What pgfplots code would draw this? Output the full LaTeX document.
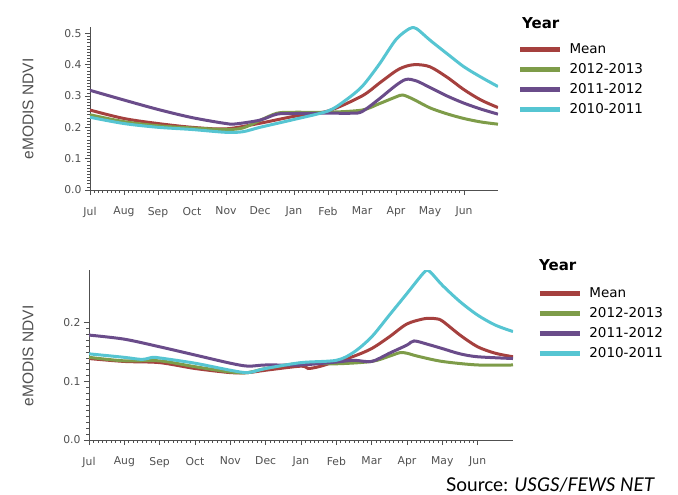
\documentclass[border=0pt]{standalone}
\usepackage{fontspec}
\usepackage{pgfplots}
\pgfplotsset{compat=1.18}
\setmainfont{DejaVu Sans}
\newfontfamily\labelfont{Liberation Sans}
\newfontfamily\srcfont{Lato}
\definecolor{cmean}{HTML}{A5403E}
\definecolor{c1213}{HTML}{7E9C49}
\definecolor{c1112}{HTML}{6A4C8A}
\definecolor{c1011}{HTML}{56C5D2}
\definecolor{axgray}{HTML}{505050}

\pgfplotsset{
  ndvi/.style={
    scale only axis,
    axis lines*=left,
    axis line style={-, color=axgray, line width=0.8pt},
    tick align=outside,
    xmin=0, xmax=12, ymin=0,
    xtick={0,1,...,11},
    xticklabels={Jul,Aug,Sep,Oct,Nov,Dec,Jan,Feb,Mar,Apr,May,Jun},
    minor x tick num=7,
    minor y tick num=9,
    major tick length=5pt,
    minor tick length=2.5pt,
    every tick/.style={axgray, line width=0.6pt},
    ticklabel style={font=\fontsize{10.8}{12}\selectfont, text=axgray},
    xticklabel style={yshift=-8.5pt},
    /pgf/number format/assume math mode=true,
    /pgf/number format/fixed,
    /pgf/number format/fixed zerofill,
    /pgf/number format/precision=1,
    ylabel={eMODIS NDVI},
    ylabel style={font=\labelfont\fontsize{15.5}{17}\selectfont, text=axgray, anchor=center},
    every axis plot/.append style={line width=3pt, smooth, tension=0.5},
    legend image code/.code={\draw[#1, line width=5pt] (0pt,0pt) -- (40pt,0pt);},
    legend cell align=left,
    legend style={draw=none, fill=none, anchor=north west,
      font=\fontsize{13.5}{15}\selectfont, row sep=6.5pt,
      nodes={inner xsep=7pt, inner ysep=1pt}},
  }
}

\pgfplotstableread{
x y
0 0.255
1 0.228
2 0.212
3 0.200
4 0.195
5 0.213
6 0.235
7 0.252
8 0.300
8.5 0.340
9 0.380
9.3 0.395
9.6 0.400
10 0.393
10.5 0.360
11 0.320
11.5 0.287
12 0.263
}\topmean
\pgfplotstableread{
x y
0 0.240
1 0.218
2 0.205
3 0.198
4 0.193
4.5 0.198
5 0.222
5.5 0.245
6 0.248
7 0.248
8 0.255
8.5 0.275
9 0.297
9.2 0.303
9.5 0.290
10 0.262
10.5 0.243
11 0.228
11.5 0.217
12 0.210
}\topgreen
\pgfplotstableread{
x y
0 0.318
1 0.287
2 0.257
3 0.231
4 0.212
4.3 0.211
5 0.223
5.5 0.242
6 0.244
7 0.245
7.7 0.245
8 0.250
8.5 0.290
9 0.334
9.3 0.353
9.6 0.348
10 0.327
10.5 0.300
11 0.277
11.5 0.258
12 0.242
}\toppurple
\pgfplotstableread{
x y
0 0.232
1 0.212
2 0.200
3 0.193
4 0.184
4.5 0.186
5 0.200
6 0.225
7 0.252
7.5 0.285
8 0.330
8.5 0.400
9 0.480
9.4 0.515
9.6 0.515
10 0.478
10.5 0.435
11 0.393
11.5 0.360
12 0.330
}\topcyan

\pgfplotstableread{
x y
0 0.139
1 0.134
2 0.132
3 0.122
4 0.115
4.5 0.115
5 0.119
6 0.126
6.2 0.122
6.5 0.125
7 0.134
7.5 0.143
8 0.156
8.5 0.176
9 0.198
9.5 0.207
9.8 0.207
10 0.203
10.5 0.179
11 0.159
11.5 0.148
12 0.142
}\botmean
\pgfplotstableread{
x y
0 0.141
1 0.135
2 0.135
3 0.125
4 0.116
4.5 0.115
5 0.122
6 0.131
7 0.130
8 0.134
8.5 0.143
8.8 0.149
9 0.148
9.3 0.143
10 0.134
11 0.128
12 0.128
}\botgreen
\pgfplotstableread{
x y
0 0.179
1 0.172
2 0.159
3 0.145
4 0.131
4.5 0.126
5 0.128
6 0.128
7 0.133
7.5 0.136
8 0.134
8.5 0.148
9 0.162
9.2 0.169
9.6 0.163
10 0.156
10.5 0.147
11 0.142
12 0.139
}\botpurple
\pgfplotstableread{
x y
0 0.147
1 0.141
1.5 0.1375
1.8 0.141
2 0.140
3 0.131
4 0.119
4.5 0.115
5 0.122
6 0.132
7 0.136
7.5 0.150
8 0.176
8.5 0.213
9 0.250
9.5 0.287
9.65 0.287
10 0.264
10.5 0.236
11 0.213
11.5 0.196
12 0.185
}\botcyan

\begin{document}
\begin{tikzpicture}
\path[use as bounding box] (0pt,0pt) rectangle (678pt,-495pt);

\begin{axis}[ndvi,
  at={(90pt,-190pt)}, anchor=south west,
  width=408pt, height=163pt,
  ymax=0.52, ytick={0,0.1,...,0.5},
  ylabel style={at={(axis description cs:-0.152,0.497)}},
  legend style={at={(axis description cs:1.04,0.915)}},
]
\addplot[cmean] table {\topmean};
\addplot[c1213] table {\topgreen};
\addplot[c1112] table {\toppurple};
\addplot[c1011] table {\topcyan};
\legend{Mean,2012-2013,2011-2012,2010-2011}
\end{axis}

\begin{axis}[ndvi,
  at={(89pt,-440pt)}, anchor=south west,
  width=424pt, height=170pt,
  ymax=0.29, ytick={0,0.1,0.2},
  ylabel style={at={(axis description cs:-0.144,0.494)}},
  legend style={at={(axis description cs:1.05,0.915)}},
]
\addplot[cmean] table {\botmean};
\addplot[c1213] table {\botgreen};
\addplot[c1112] table {\botpurple};
\addplot[c1011] table {\botcyan};
\legend{Mean,2012-2013,2011-2012,2010-2011}
\end{axis}

\node[anchor=west, font=\bfseries\fontsize{15}{17}\selectfont, inner sep=0pt] at (522pt,-23pt) {Year};
\node[anchor=west, font=\bfseries\fontsize{15}{17}\selectfont, inner sep=0pt] at (539pt,-265pt) {Year};
\node[anchor=base east, font=\srcfont\fontsize{19}{22}\selectfont, inner sep=0pt] at (655pt,-491pt) {Source: \textit{USGS/FEWS NET}};
\end{tikzpicture}
\end{document}
